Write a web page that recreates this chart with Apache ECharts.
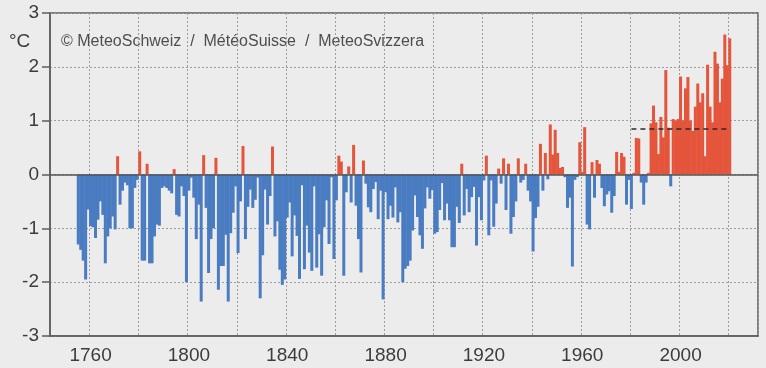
<!DOCTYPE html>
<html>
<head>
<meta charset="utf-8">
<script src="https://cdn.jsdelivr.net/npm/echarts@6/dist/echarts.min.js"></script>
<style>
  html, body { margin: 0; padding: 0; background: #ececec; }
  #chart { width: 766px; height: 368px; }
</style>
</head>
<body>
<div id="chart"></div>
<script>
// x axis runs a bit wider than the data, like the original
const axisFirstYear = 1744;
const axisLastYear = 2031;
const dataFirstYear = 1755;

// yearly anomaly in °C, one array per block of years
const anomalies1755to1799 = [
  -1.3, -1.4, -1.6, -1.95, -0.65,
  -0.96, -0.98, -1.18, -0.84, -0.5, -0.75, -1.65, -1.15, -1.0, -0.78,
  -1.02, 0.34, -0.56, -0.3, -0.15, -0.2, -1.0, -1.0, -0.25, -0.1,
  0.43, -1.6, -1.6, 0.2, -1.65, -1.65, -1.15, -0.93, -0.95, -0.25,
  -0.22, -0.25, -0.3, -0.35, 0.1, -0.75, -0.78, -0.22, -0.4, -2.0
];
const anomalies1800to1849 = [
  -0.3, -0.06, -0.43, -1.2, -0.56, -2.36, 0.36, -0.62, -1.83, -1.2,
  -1.0, 0.31, -2.14, -1.7, -1.7, -1.12, -2.36, -1.09, -0.71, -0.22,
  -1.46, -0.5, 0.53, -1.2, -0.6, -0.28, -0.62, -0.47, -0.06, -2.3,
  -1.5, -0.28, -0.93, -0.4, 0.52, -1.15, -0.87, -1.77, -2.05, -1.95,
  -0.8, -0.52, -1.52, -0.76, -1.14, -1.94, -0.2, -1.76, -0.95, -1.45
];
const anomalies1850to1899 = [
  -1.79, -0.22, -1.73, -1.11, -1.88, -0.98, -0.48, -1.29, -0.05, -1.57,
  -0.48, 0.35, 0.24, -1.88, -0.33, 0.15, -0.52, 0.55, -0.58, -1.2,
  -1.82, 0.26, -0.17, -0.61, -0.7, -0.27, -0.14, -0.83, -0.3, -2.32,
  -0.33, -0.83, -0.58, -0.8, -0.24, -0.89, -0.7, -2.0, -1.75, -1.7,
  -1.6, -1.04, -0.39, -0.79, -1.13, -1.38, -0.63, -0.24, -0.45, -0.29
];
const anomalies1900to1949 = [
  -1.1, -1.07, -0.66, -0.16, -0.85, -0.54, -0.85, -1.35, -1.35, -0.6,
  -0.9, 0.2, -0.76, -0.27, -0.7, -0.42, -0.23, -1.32, -0.42, -0.85,
  -0.11, 0.35, -1.13, -0.11, -0.97, -0.54, 0.11, -0.17, 0.3, -0.66,
  0.2, -1.1, -0.79, -0.5, 0.3, -0.15, -0.1, 0.2, -0.3, -0.5,
  -1.43, -0.81, -0.6, 0.57, -0.3, 0.4, -0.09, 0.93, 0.37, 0.83
];
const anomalies1950to1999 = [
  0.4, 0.12, 0.14, -0.05, -0.62, -0.43, -1.71, -0.1, -0.05, 0.6,
  0.05, 0.88, -0.93, -1.02, 0.23, -0.43, 0.27, 0.2, -0.25, -0.59,
  -0.37, -0.31, -0.71, -0.4, 0.42, 0.05, 0.4, 0.33, -0.56, -0.1,
  -0.64, 0.03, 0.68, 0.67, -0.15, -0.56, -0.15, 0.03, 0.95, 1.28,
  0.97, 0.38, 1.07, 0.69, 1.94, 0.87, -0.22, 1.03, 1.0, 1.03
];
const anomalies2000to2020 = [
  1.82, 1.0, 1.6, 1.81, 1.0, 0.81, 1.26, 1.69, 1.34, 1.51,
  0.34, 2.04, 1.26, 0.97, 2.28, 2.06, 1.34, 1.78, 2.6, 2.03,
  2.53
];

// dashed reference line (recent mean) and where it starts/ends
const refLineValue = 0.85;
const refLineFrom = '1980';
const refLineTo = '2020';

const yTicks = [-3, -2, -1, 0, 1, 2, 3];

const anomalies = [].concat(
  anomalies1755to1799, anomalies1800to1849, anomalies1850to1899,
  anomalies1900to1949, anomalies1950to1999, anomalies2000to2020
);

// category axis: one slot per year, empty where there is no data
const years = [];
for (let y = axisFirstYear; y <= axisLastYear; y++) years.push(String(y));
const barData = years.map(y => {
  const v = anomalies[Number(y) - dataFirstYear];
  return v === undefined ? null : v;
});

const RED = '#e4553b';
const BLUE = '#4a7cc2';
const TEXT = '#3c3c3c';

const chart = echarts.init(document.getElementById('chart'));

const option = {
  backgroundColor: '#ececec',
  animation: false,
  grid: {
    left: 50,
    right: 8,
    top: 13,
    bottom: 32,
    show: true,
    borderColor: '#5c5c5c',
    borderWidth: 1.5
  },
  graphic: [
    {
      type: 'text', left: 9, top: 32,
      style: { text: '°C', fill: TEXT, font: '19px "Liberation Sans", Arial, sans-serif' }
    },
    {
      type: 'text', left: 61, top: 34,
      style: {
        text: '© MeteoSchweiz  /  MétéoSuisse  /  MeteoSvizzera',
        fill: '#4e4e4e',
        font: '16px "Liberation Sans", Arial, sans-serif'
      }
    }
  ],
  xAxis: {
    type: 'category',
    data: years,
    boundaryGap: true,
    axisLine: { onZero: false, lineStyle: { color: '#5c5c5c', width: 1.5 } },
    axisTick: {
      alignWithLabel: true,
      length: 6,
      interval: (i, v) => Number(v) % 20 === 0,
      lineStyle: { color: '#5c5c5c', width: 1.5 }
    },
    axisLabel: {
      interval: (i, v) => Number(v) % 40 === 0,
      margin: 10,
      color: TEXT,
      fontSize: 19,
      fontFamily: '"Liberation Sans", Arial, sans-serif'
    },
    splitLine: {
      show: true,
      interval: (i, v) => Number(v) % 20 === 0,
      lineStyle: { color: '#9c9c9c', type: [2, 2], width: 1 }
    }
  },
  yAxis: {
    type: 'value',
    min: yTicks[0],
    max: yTicks[yTicks.length - 1],
    interval: 1,
    axisLine: { show: true, lineStyle: { color: '#5c5c5c', width: 1.5 } },
    axisTick: { show: true, length: 8, lineStyle: { color: '#5c5c5c', width: 1.5 } },
    axisLabel: {
      margin: 11,
      color: TEXT,
      fontSize: 19,
      fontFamily: '"Liberation Sans", Arial, sans-serif'
    },
    splitLine: { lineStyle: { color: '#9c9c9c', type: [2, 2], width: 1 } }
  },
  series: [
    {
      type: 'bar',
      data: barData,
      // a bit wider than one year slot so neighbouring bars close up like the print
      barWidth: 3,
      itemStyle: {
        color: p => (p.value >= 0 ? RED : BLUE)
      },
      markLine: {
        silent: true,
        symbol: 'none',
        label: { show: false },
        animation: false,
        data: [
          // zero line
          { yAxis: 0, lineStyle: { color: '#555', width: 1.5, type: 'solid' } },
          // recent mean, dashed
          [
            { coord: [refLineFrom, refLineValue], lineStyle: { color: '#2a2a2a', width: 1.5, type: [5, 4] } },
            { coord: [refLineTo, refLineValue] }
          ]
        ]
      }
    }
  ]
};

chart.setOption(option);
</script>
</body>
</html>
